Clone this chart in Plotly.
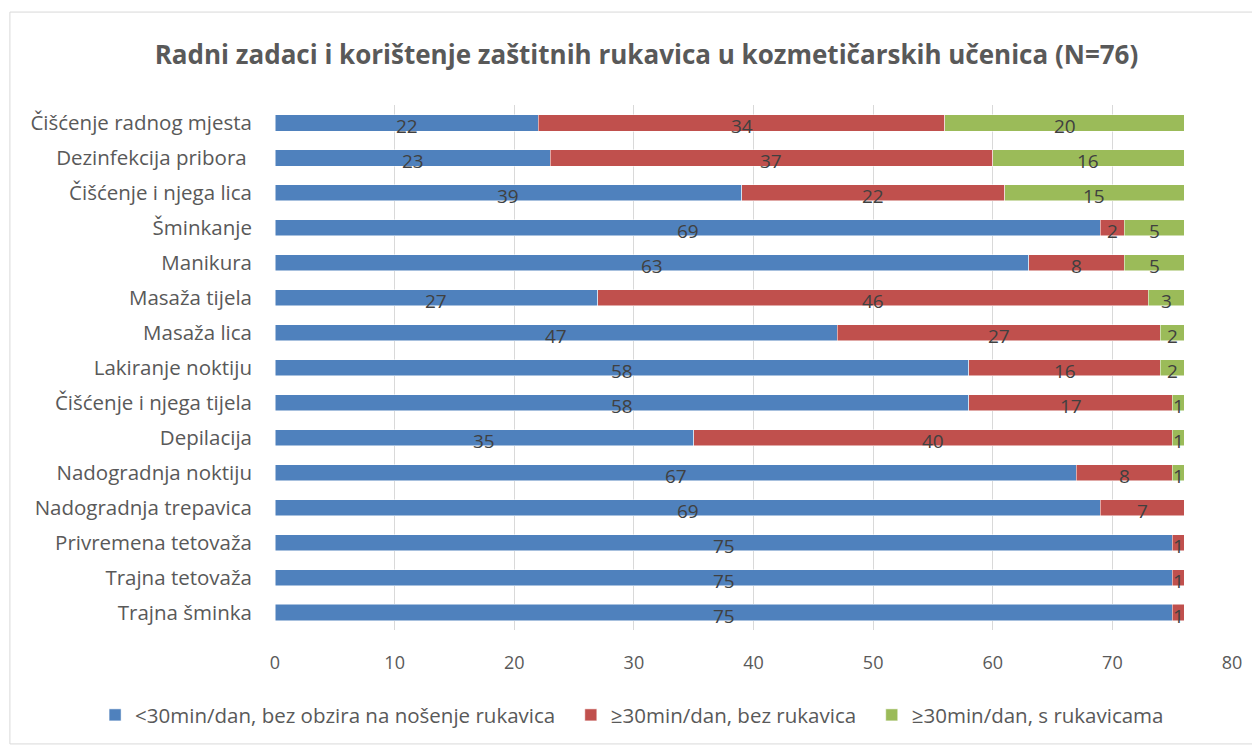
import plotly.graph_objects as go

# podaci (odozgo prema dolje)
zadaci = ["Čišćenje radnog mjesta", "Dezinfekcija pribora ", "Čišćenje i njega lica",
          "Šminkanje", "Manikura", "Masaža tijela", "Masaža lica", "Lakiranje noktiju",
          "Čišćenje i njega tijela", "Depilacija", "Nadogradnja noktiju",
          "Nadogradnja trepavica", "Privremena tetovaža", "Trajna tetovaža", "Trajna šminka"]
manje_30 = [22, 23, 39, 69, 63, 27, 47, 58, 58, 35, 67, 69, 75, 75, 75]
bez_rukavica = [34, 37, 22, 2, 8, 46, 27, 16, 17, 40, 8, 7, 1, 1, 1]
s_rukavicama = [20, 16, 15, 5, 5, 3, 2, 2, 1, 1, 1, 0, 0, 0, 0]

nazivi = ["<30min/dan, bez obzira na nošenje rukavica", "≥30min/dan, bez rukavica",
          "≥30min/dan, s rukavicama"]
boje = ["#4F81BD", "#C0504D", "#9BBB59"]
x_ticks = [0, 10, 20, 30, 40, 50, 60, 70, 80]

FONT = "Open Sans, sans-serif"
serije = [manje_30, bez_rukavica, s_rukavicama]

fig = go.Figure()
for naziv, vals, boja in zip(nazivi, serije, boje):
    fig.add_trace(go.Bar(
        y=zadaci, x=vals, name=naziv + "  ", orientation="h",
        marker=dict(color=boja, line=dict(color="white", width=0.5)),
        width=0.46,
    ))

# oznake vrijednosti u sredini segmenta
for i, z in enumerate(zadaci):
    start = 0
    for vals in serije:
        v = vals[i]
        if v > 0:
            fig.add_annotation(x=start + v / 2, y=z, text=str(v), showarrow=False,
                               yshift=-3, font=dict(size=19, color="#404040", family=FONT))
        start += v

fig.update_layout(
    barmode="stack",
    width=1252, height=737,
    paper_bgcolor="white", plot_bgcolor="white",
    margin=dict(l=267, r=28, t=97, b=115, autoexpand=False),
    font=dict(family=FONT, color="#595959"),
    title=dict(text="<b>Radni zadaci i korištenje zaštitnih rukavica u kozmetičarskih učenica (N=76)</b>",
               x=0.51, xanchor="center", y=0.936, yanchor="middle",
               font=dict(size=26, color="#595959", family=FONT)),
    xaxis=dict(range=[0, 80], tickvals=x_ticks, showgrid=True, gridcolor="#d9d9d9",
               gridwidth=1, zeroline=False, showline=False,
               tickfont=dict(size=18, color="#595959"), ticks="", ticklen=0,
               ticklabelstandoff=20),
    yaxis=dict(categoryorder="array", categoryarray=zadaci, autorange="reversed",
               tickfont=dict(size=20.5, color="#595959"), ticks="", showgrid=False,
               ticklabelstandoff=22),
    legend=dict(orientation="h", x=-0.188, xanchor="left", y=-0.162, yanchor="middle",
                font=dict(size=20.5, color="#595959"), traceorder="normal",
                itemwidth=30),
    shapes=[dict(type="rect", xref="paper", yref="paper",
                 x0=-0.277, x1=1.026, y0=-0.217, y1=1.177,
                 line=dict(color="#d9d9d9", width=1), layer="below")],
)

fig.write_html("out.html")
